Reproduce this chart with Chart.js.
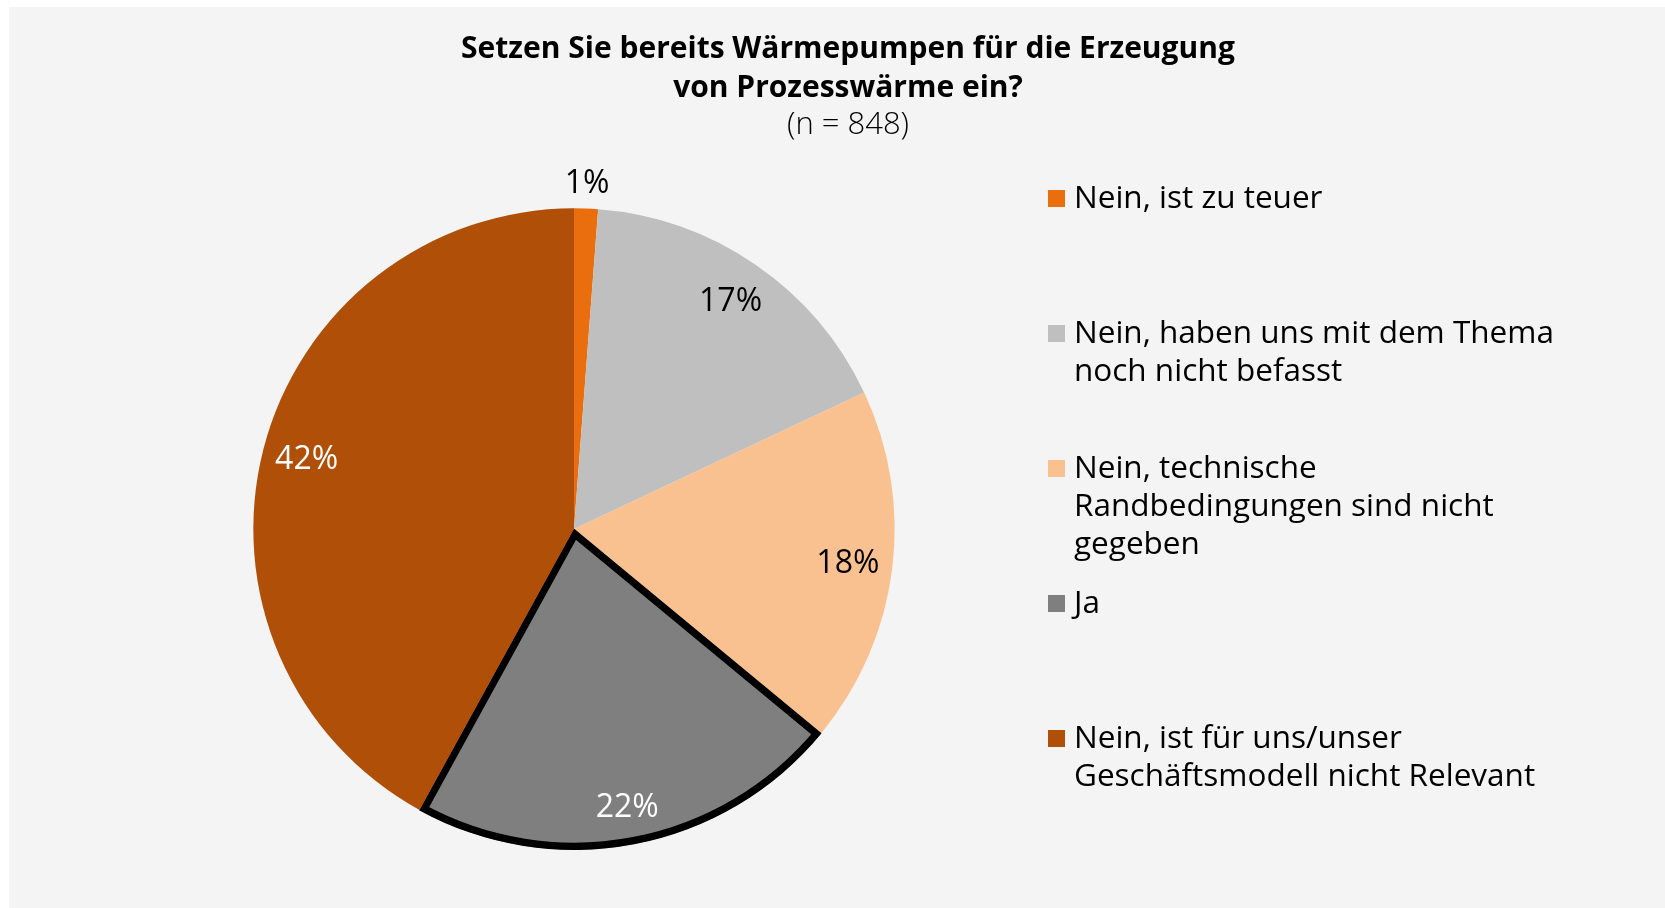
<!DOCTYPE html>
<html>
<head>
<meta charset="utf-8">
<script src="https://cdn.jsdelivr.net/npm/chart.js@4.4.0/dist/chart.umd.min.js"></script>
<style>
  html, body { margin: 0; padding: 0; background: #fff; }
  #wrap { position: relative; width: 1665px; height: 908px; }
</style>
</head>
<body>
<div id="wrap"><canvas id="pie"></canvas></div>
<script>
// data
const titleLines = ['Setzen Sie bereits Wärmepumpen für die Erzeugung', 'von Prozesswärme ein?'];
const subtitle = '(n = 848)';
const categories = [
  ['Nein, ist zu teuer'],
  ['Nein, haben uns mit dem Thema', 'noch nicht befasst'],
  ['Nein, technische', 'Randbedingungen sind nicht', 'gegeben'],
  ['Ja'],
  ['Nein, ist für uns/unser', 'Geschäftsmodell nicht Relevant']
];
const shares = [1.2, 16.8, 18.0, 22.0, 42.0];
const percentLabels = ['1%', '17%', '18%', '22%', '42%'];
const sliceColors = ['#EB6E0E', '#BFBFBF', '#FAC190', '#7F7F7F', '#B04F08'];
const labelColors = ['#000', '#000', '#000', '#fff', '#fff'];
const labelRadius = [1.075, 0.86, 0.86, 0.885, 0.86];

const FONT = '"Open Sans", "Noto Sans", sans-serif';

// grey panel behind everything
const panel = {
  id: 'panel',
  beforeDraw(chart) {
    const ctx = chart.ctx;
    ctx.save();
    ctx.fillStyle = '#fff';
    ctx.fillRect(0, 0, chart.width, chart.height);
    ctx.fillStyle = '#F4F4F4';
    ctx.fillRect(9, 7, chart.width - 9, chart.height - 7);
    ctx.restore();
  }
};

// title, slice labels and legend
const texts = {
  id: 'texts',
  afterDraw(chart) {
    const ctx = chart.ctx;
    ctx.save();
    ctx.textAlign = 'center';
    ctx.textBaseline = 'middle';
    ctx.fillStyle = '#000';
    ctx.font = 'bold 30px ' + FONT;
    ctx.fillText(titleLines[0], 848, 49);
    ctx.fillText(titleLines[1], 848, 88);
    ctx.font = '300 31px ' + FONT;
    ctx.fillText(subtitle, 848, 125);

    // percentages on the slices
    ctx.font = '32px ' + FONT;
    chart.getDatasetMeta(0).data.forEach((arc, i) => {
      const p = arc.getProps(['x', 'y', 'startAngle', 'endAngle', 'outerRadius'], true);
      const mid = (p.startAngle + p.endAngle) / 2;
      const f = labelRadius[i];
      ctx.fillStyle = labelColors[i];
      ctx.fillText(percentLabels[i], p.x + Math.cos(mid) * p.outerRadius * f, p.y + Math.sin(mid) * p.outerRadius * f);
    });

    // legend
    ctx.textAlign = 'left';
    ctx.textBaseline = 'alphabetic';
    ctx.font = '31.5px ' + FONT;
    categories.forEach((lines, i) => {
      const base = 208 + i * 135;
      ctx.fillStyle = sliceColors[i];
      ctx.fillRect(1048, base - 18, 17, 17);
      ctx.fillStyle = '#000';
      lines.forEach((t, j) => ctx.fillText(t, 1074, base + j * 38));
    });
    ctx.restore();
  }
};

var pie = document.getElementById('pie');
var pieChart = new Chart(pie, {
  type: 'pie',
  data: {
    labels: categories,
    datasets: [{
      data: shares,
      backgroundColor: sliceColors,
      borderColor: '#000',
      borderWidth: [0, 0, 0, 7, 0],
      borderAlign: 'inner',
      borderJoinStyle: 'miter'
    }]
  },
  options: {
    responsive: true,
    maintainAspectRatio: false,
    animation: false,
    layout: { padding: { left: 253, right: 770, top: 208, bottom: 58 } },
    plugins: {
      legend: { display: false },
      title: { display: false },
      tooltip: { enabled: false }
    }
  },
  plugins: [panel, texts]
});
</script>
</body>
</html>
